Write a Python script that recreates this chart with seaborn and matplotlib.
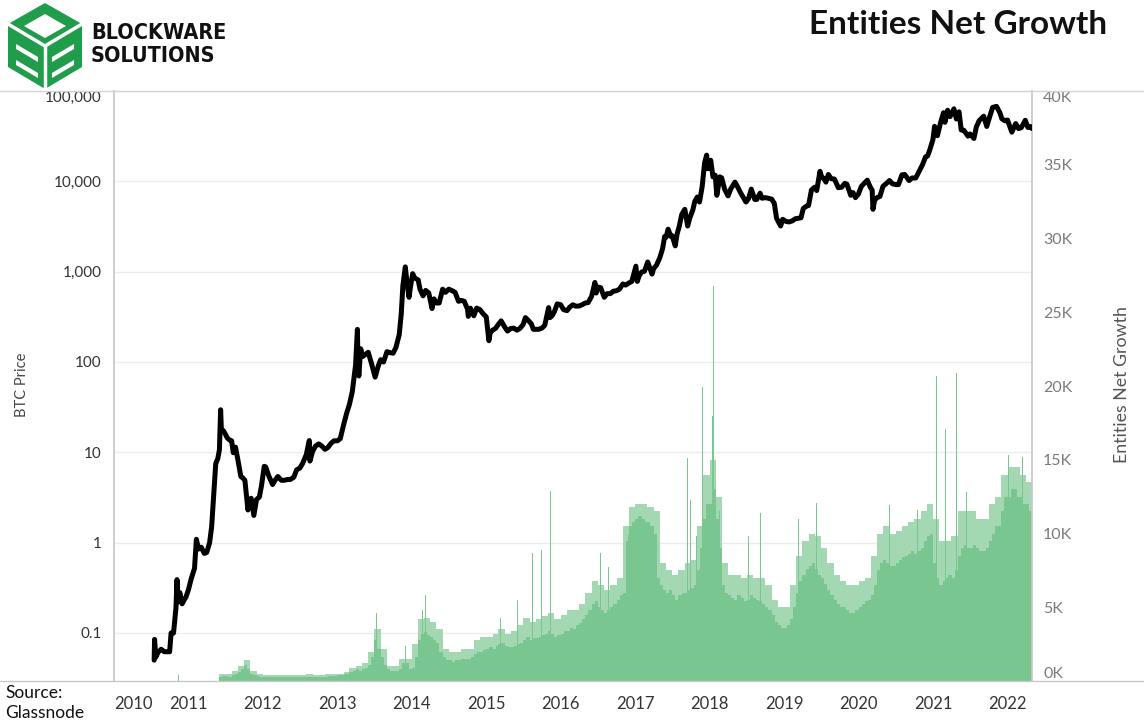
import numpy as np
import pandas as pd
import matplotlib
matplotlib.use("Agg")
import matplotlib.pyplot as plt
import matplotlib.dates as mdates
from matplotlib import font_manager
from matplotlib.patches import Polygon
from matplotlib.lines import Line2D
import seaborn as sns

sns.set_theme(style="white")
plt.rcParams["font.family"] = ["Lato", "DejaVu Sans"]

# ---------------- data ----------------
price_dates = [
    "2010-07-17", "2010-07-19", "2010-07-25", "2010-08-05", "2010-08-20", "2010-09-05", "2010-09-20",
    "2010-10-01", "2010-10-08", "2010-10-20", "2010-11-01", "2010-11-06", "2010-11-10", "2010-11-20",
    "2010-12-01", "2010-12-10", "2010-12-20", "2011-01-01", "2011-01-15", "2011-01-31", "2011-02-09",
    "2011-02-20", "2011-03-05", "2011-03-20", "2011-04-01", "2011-04-15", "2011-04-25", "2011-05-05",
    "2011-05-15", "2011-05-25", "2011-06-02", "2011-06-08", "2011-06-12", "2011-06-20", "2011-06-30",
    "2011-07-10", "2011-07-20", "2011-08-01", "2011-08-09", "2011-08-20", "2011-09-01", "2011-09-15",
    "2011-09-25", "2011-10-05", "2011-10-20", "2011-10-27", "2011-11-05", "2011-11-18", "2011-12-01",
    "2011-12-15", "2011-12-25", "2012-01-08", "2012-01-15", "2012-01-30", "2012-02-18", "2012-03-01",
    "2012-03-15", "2012-04-01", "2012-04-15", "2012-05-01", "2012-05-15", "2012-06-01", "2012-06-15",
    "2012-07-01", "2012-07-15", "2012-08-01", "2012-08-16", "2012-08-19", "2012-09-01", "2012-09-15",
    "2012-10-01", "2012-10-15", "2012-11-01", "2012-11-15", "2012-12-01", "2012-12-15", "2013-01-01",
    "2013-01-15", "2013-02-01", "2013-02-15", "2013-03-01", "2013-03-15", "2013-03-31", "2013-04-09",
    "2013-04-11", "2013-04-16", "2013-04-25", "2013-05-05", "2013-05-20", "2013-06-01", "2013-06-15",
    "2013-07-05", "2013-07-20", "2013-08-01", "2013-08-15", "2013-09-01", "2013-09-15", "2013-10-01",
    "2013-10-15", "2013-10-31", "2013-11-10", "2013-11-18", "2013-11-30", "2013-12-07", "2013-12-18",
    "2013-12-25", "2014-01-05", "2014-01-15", "2014-02-01", "2014-02-10", "2014-02-25", "2014-03-10",
    "2014-03-25", "2014-04-10", "2014-04-20", "2014-05-01", "2014-05-15", "2014-06-01", "2014-06-15",
    "2014-07-01", "2014-07-15", "2014-08-01", "2014-08-18", "2014-09-01", "2014-09-15", "2014-10-01",
    "2014-10-05", "2014-10-15", "2014-11-01", "2014-11-15", "2014-12-01", "2014-12-15", "2015-01-01",
    "2015-01-14", "2015-01-20", "2015-02-01", "2015-02-15", "2015-03-01", "2015-03-15", "2015-04-01",
    "2015-04-15", "2015-05-01", "2015-05-15", "2015-06-01", "2015-06-15", "2015-07-01", "2015-07-12",
    "2015-07-25", "2015-08-10", "2015-08-20", "2015-09-01", "2015-09-15", "2015-10-01", "2015-10-15",
    "2015-11-03", "2015-11-10", "2015-11-20", "2015-12-01", "2015-12-15", "2016-01-01", "2016-01-15",
    "2016-02-01", "2016-02-15", "2016-03-01", "2016-03-15", "2016-04-01", "2016-04-15", "2016-05-01",
    "2016-05-15", "2016-06-01", "2016-06-17", "2016-06-23", "2016-07-01", "2016-07-15", "2016-08-02",
    "2016-08-15", "2016-09-01", "2016-09-15", "2016-10-01", "2016-10-15", "2016-11-01", "2016-11-15",
    "2016-12-01", "2016-12-15", "2017-01-04", "2017-01-11", "2017-01-20", "2017-02-01", "2017-02-15",
    "2017-03-03", "2017-03-24", "2017-04-01", "2017-04-15", "2017-05-01", "2017-05-15", "2017-05-25",
    "2017-06-01", "2017-06-11", "2017-06-25", "2017-07-01", "2017-07-16", "2017-07-25", "2017-08-05",
    "2017-08-17", "2017-09-01", "2017-09-15", "2017-09-25", "2017-10-10", "2017-10-20", "2017-11-01",
    "2017-11-12", "2017-11-25", "2017-12-07", "2017-12-17", "2017-12-22", "2017-12-31", "2018-01-06",
    "2018-01-17", "2018-01-28", "2018-02-05", "2018-02-20", "2018-03-01", "2018-03-15", "2018-04-01",
    "2018-04-15", "2018-05-05", "2018-05-20", "2018-06-01", "2018-06-28", "2018-07-10", "2018-07-24",
    "2018-08-10", "2018-08-20", "2018-09-05", "2018-09-15", "2018-10-01", "2018-10-15", "2018-11-01",
    "2018-11-14", "2018-11-25", "2018-12-15", "2018-12-25", "2019-01-10", "2019-01-25", "2019-02-10",
    "2019-02-25", "2019-03-10", "2019-03-25", "2019-04-05", "2019-04-20", "2019-05-01", "2019-05-15",
    "2019-05-30", "2019-06-10", "2019-06-26", "2019-07-05", "2019-07-15", "2019-07-25", "2019-08-06",
    "2019-08-20", "2019-09-05", "2019-09-24", "2019-10-10", "2019-10-26", "2019-11-05", "2019-11-24",
    "2019-12-05", "2019-12-17", "2019-12-31", "2020-01-15", "2020-02-13", "2020-02-28", "2020-03-08",
    "2020-03-12", "2020-03-20", "2020-04-01", "2020-04-15", "2020-04-30", "2020-05-15", "2020-06-01",
    "2020-06-15", "2020-07-01", "2020-07-15", "2020-08-01", "2020-08-15", "2020-09-05", "2020-09-20",
    "2020-10-08", "2020-10-25", "2020-11-10", "2020-11-25", "2020-12-05", "2020-12-17", "2020-12-31",
    "2021-01-08", "2021-01-22", "2021-02-08", "2021-02-21", "2021-02-28", "2021-03-13", "2021-03-25",
    "2021-04-13", "2021-04-25", "2021-05-08", "2021-05-19", "2021-06-01", "2021-06-21", "2021-07-01",
    "2021-07-20", "2021-08-01", "2021-08-15", "2021-09-06", "2021-09-21", "2021-10-05", "2021-10-20",
    "2021-11-08", "2021-11-25", "2021-12-04", "2021-12-20", "2022-01-01", "2022-01-22", "2022-02-10",
    "2022-02-24", "2022-03-10", "2022-03-29", "2022-04-11", "2022-04-25", "2022-04-30",
]
price_usd = [
    0.05, 0.085, 0.054, 0.061, 0.066, 0.062, 0.062,
    0.062, 0.10, 0.10, 0.19, 0.39, 0.22, 0.28,
    0.21, 0.23, 0.25, 0.30, 0.40, 0.52, 1.09,
    0.85, 0.89, 0.76, 0.78, 1.0, 1.5, 3.3,
    7.5, 8.5, 10.6, 29.6, 17.0, 17.5, 16.1,
    14.5, 13.8, 13.4, 9.9, 11.4, 8.2, 5.4,
    5.2, 4.9, 2.3, 3.0, 3.1, 2.0, 3.0,
    3.2, 4.2, 7.0, 6.9, 5.5, 4.4, 4.9,
    5.4, 4.9, 4.9, 5.0, 5.0, 5.3, 6.4,
    6.7, 7.6, 9.4, 13.5, 8.0, 10.2, 11.7,
    12.4, 11.8, 10.8, 11.3, 12.6, 13.4, 13.4,
    14.2, 20.5, 27.0, 34.0, 47.0, 93.0, 230.0,
    120.0, 70.0, 140.0, 115.0, 122.0, 128.0, 100.0,
    68.0, 90.0, 106.0, 100.0, 130.0, 127.0, 125.0,
    145.0, 200.0, 340.0, 700.0, 1130.0, 800.0, 520.0,
    670.0, 950.0, 850.0, 810.0, 640.0, 540.0, 620.0,
    580.0, 390.0, 500.0, 450.0, 450.0, 640.0, 590.0,
    640.0, 620.0, 590.0, 470.0, 480.0, 470.0, 385.0,
    320.0, 395.0, 325.0, 395.0, 380.0, 345.0, 315.0,
    172.0, 210.0, 225.0, 235.0, 260.0, 285.0, 245.0,
    220.0, 235.0, 237.0, 225.0, 235.0, 260.0, 310.0,
    290.0, 265.0, 230.0, 230.0, 230.0, 237.0, 255.0,
    400.0, 310.0, 325.0, 360.0, 440.0, 430.0, 380.0,
    370.0, 405.0, 430.0, 415.0, 417.0, 430.0, 450.0,
    455.0, 535.0, 760.0, 580.0, 675.0, 665.0, 520.0,
    570.0, 572.0, 607.0, 615.0, 640.0, 730.0, 710.0,
    750.0, 780.0, 1150.0, 780.0, 900.0, 990.0, 1010.0,
    1280.0, 940.0, 1080.0, 1180.0, 1420.0, 1800.0, 2450.0,
    2400.0, 2950.0, 2450.0, 2500.0, 1930.0, 2600.0, 3200.0,
    4300.0, 4900.0, 3200.0, 3900.0, 4800.0, 6000.0, 6700.0,
    5900.0, 8700.0, 16000.0, 19500.0, 13800.0, 14000.0, 17100.0,
    11200.0, 11700.0, 7000.0, 11200.0, 10900.0, 8200.0, 6900.0,
    8300.0, 9800.0, 8500.0, 7500.0, 5900.0, 6400.0, 8200.0,
    6300.0, 6300.0, 7400.0, 6500.0, 6600.0, 6500.0, 6350.0,
    5700.0, 3900.0, 3200.0, 3800.0, 3600.0, 3550.0, 3650.0,
    3850.0, 3900.0, 3950.0, 5000.0, 5300.0, 5400.0, 8000.0,
    8600.0, 7900.0, 12900.0, 11000.0, 10800.0, 9800.0, 11900.0,
    10700.0, 10600.0, 8500.0, 8600.0, 9500.0, 9300.0, 7000.0,
    7500.0, 6600.0, 7200.0, 8800.0, 10300.0, 8600.0, 8000.0,
    4900.0, 6200.0, 6600.0, 6800.0, 8800.0, 9400.0, 10200.0,
    9400.0, 9200.0, 9200.0, 11800.0, 11900.0, 10200.0, 10900.0,
    10900.0, 13000.0, 15300.0, 18700.0, 19100.0, 22800.0, 29000.0,
    40600.0, 32000.0, 46000.0, 57500.0, 45000.0, 61200.0, 52000.0,
    63500.0, 49000.0, 58800.0, 37000.0, 36700.0, 31600.0, 33500.0,
    29800.0, 40000.0, 47000.0, 52600.0, 40500.0, 51500.0, 65900.0,
    67500.0, 57100.0, 49300.0, 46700.0, 47700.0, 35000.0, 43600.0,
    38300.0, 39400.0, 47400.0, 39500.0, 40400.0, 38500.0,
]

# entities net growth (thousands): typical level, two values per month (1st half, 2nd half)
growth_first_month = "2011-06"
growth_2011 = [0.3, 0.35, 0.35, 0.3, 0.4, 0.5, 0.6, 0.8, 1.1, 0.8, 0.5, 0.4, 0.35, 0.3]
growth_2012 = [0.3, 0.3, 0.25, 0.25, 0.25, 0.25, 0.25, 0.25, 0.25, 0.25, 0.25, 0.3,
               0.3, 0.3, 0.3, 0.3, 0.3, 0.3, 0.3, 0.3, 0.3, 0.35, 0.35, 0.35]
growth_2013 = [0.4, 0.4, 0.45, 0.5, 0.6, 0.7, 0.8, 0.7, 0.8, 0.9, 1.1, 1.6,
               2.8, 2.2, 1.6, 1.1, 0.8, 0.7, 0.7, 0.7, 0.8, 1.2, 1.2, 0.8]
growth_2014 = [0.9, 1.6, 2.8, 3.2, 3.3, 3.1, 3.0, 2.8, 2.6, 2.0, 1.6, 1.4,
               1.4, 1.3, 1.4, 1.4, 1.5, 1.5, 1.5, 1.6, 1.8, 2.0, 2.0, 2.1]
growth_2015 = [2.2, 2.3, 2.2, 2.4, 2.5, 2.6, 2.4, 2.3, 2.3, 2.4, 2.5, 2.6,
               2.8, 3.0, 2.8, 2.9, 2.9, 3.0, 3.1, 3.2, 3.4, 3.2, 3.0, 3.1]
growth_2016 = [3.2, 3.4, 3.4, 3.6, 3.5, 3.8, 3.9, 4.2, 4.5, 4.8, 5.2, 5.4,
               5.0, 4.8, 4.6, 4.8, 5.0, 5.2, 5.5, 5.8, 6.0, 9.5, 10.5, 10.8]
growth_2017 = [11.0, 11.2, 11.0, 10.8, 10.8, 10.5, 10.0, 7.0, 6.5, 6.2, 6.0, 6.2,
               5.8, 5.5, 5.8, 6.0, 6.0, 6.2, 6.3, 6.5, 7.5, 9.0, 11.0, 12.0]
growth_2018 = [12.0, 13.0, 11.0, 9.0, 6.5, 6.0, 5.8, 5.6, 5.5, 5.8, 5.6, 5.4,
               5.5, 5.8, 5.6, 5.5, 5.4, 5.2, 5.0, 4.8, 4.5, 4.0, 3.8, 3.6]
growth_2019 = [3.6, 3.8, 4.2, 5.0, 6.0, 6.8, 7.2, 7.6, 7.8, 8.0, 7.6, 7.2,
               7.0, 6.6, 6.2, 5.8, 5.5, 5.2, 5.0, 5.0, 4.8, 4.6, 4.6, 4.8]
growth_2020 = [5.0, 5.2, 5.4, 5.5, 5.8, 6.5, 7.5, 8.0, 8.2, 8.0, 7.8, 7.8,
               8.0, 8.2, 8.4, 8.5, 8.6, 8.8, 8.6, 8.8, 9.0, 9.5, 9.8, 10.0]
growth_2021 = [8.0, 7.0, 6.5, 6.8, 7.0, 7.2, 7.0, 7.5, 8.5, 9.0, 9.2, 9.0,
               9.0, 9.2, 9.0, 8.8, 8.8, 9.0, 9.5, 10.0, 10.5, 10.5, 11.5, 12.5]
growth_2022 = [12.5, 13.0, 13.0, 12.5, 12.5, 12.0, 12.0, 11.5]

# upper reach of the dense daily bars, one value per month (thousands)
growth_high_2011 = [0.5, 0.5, 0.7, 1.0, 1.4, 0.7, 0.5]
growth_high_2012 = [0.4, 0.4, 0.4, 0.4, 0.4, 0.4, 0.4, 0.45, 0.4, 0.4, 0.45, 0.5]
growth_high_2013 = [0.5, 0.6, 0.9, 1.0, 1.2, 2.0, 3.5, 2.2, 1.0, 1.0, 1.5, 1.5]
growth_high_2014 = [2.5, 4.2, 4.3, 4.0, 3.5, 2.2, 2.0, 2.0, 2.2, 2.2, 2.8, 3.0]
growth_high_2015 = [3.0, 3.2, 3.5, 3.2, 3.4, 3.8, 4.3, 4.0, 4.2, 4.4, 4.6, 4.2]
growth_high_2016 = [4.5, 4.8, 4.8, 5.2, 6.0, 6.8, 6.5, 6.2, 6.5, 7.0, 10.5, 11.8]
growth_high_2017 = [12.0, 12.0, 11.8, 11.5, 8.0, 7.5, 7.2, 7.5, 8.0, 8.2, 10.5, 14.0]
growth_high_2018 = [15.0, 12.5, 8.0, 7.2, 7.2, 7.0, 7.2, 7.0, 7.0, 6.5, 5.5, 5.0]
growth_high_2019 = [5.0, 6.5, 8.5, 9.5, 10.0, 9.8, 9.0, 8.0, 7.2, 6.8, 6.5, 6.5]
growth_high_2020 = [6.8, 7.0, 8.5, 10.0, 10.5, 10.0, 10.2, 10.5, 10.8, 11.0, 11.5, 12.0]
growth_high_2021 = [11.0, 9.5, 9.5, 9.8, 11.5, 11.5, 11.5, 11.0, 11.0, 12.0, 12.5, 14.0]
growth_high_2022 = [14.5, 14.5, 14.0, 13.5]

spike_dates = ["2010-11-12", "2013-07-12", "2013-11-29", "2014-02-20", "2014-03-08", "2015-03-10",
               "2015-06-03", "2015-08-18", "2015-09-27", "2015-11-13", "2016-07-12", "2016-08-22",
               "2016-11-27", "2017-09-16", "2017-10-01", "2017-10-30", "2017-11-28", "2018-01-14",
               "2018-01-18", "2018-01-22", "2018-02-20", "2018-07-08", "2018-09-06", "2019-03-14",
               "2019-06-10", "2020-05-31", "2020-10-18", "2021-01-19", "2021-03-03", "2021-04-26",
               "2021-06-16", "2022-01-08", "2022-03-17"]
spike_k = [0.4, 4.6, 2.4, 4.8, 5.8, 4.3,
           5.5, 8.7, 8.9, 12.9, 8.7, 7.7,
           9.9, 15.1, 12.3, 9.8, 19.9, 18.0,
           26.8, 17.0, 11.5, 9.8, 11.4, 11.0,
           12.1, 11.9, 11.6, 20.7, 17.1, 20.9,
           12.8, 15.3, 15.2]

left_ticks = [0.1, 1, 10, 100, 1000, 10000, 100000]
left_labels = ["0.1", "1", "10", "100", "1,000", "10,000", "100,000"]
right_ticks = [0, 5000, 10000, 15000, 20000, 25000, 30000, 35000, 40000]

# ---------------- assemble ----------------
price_df = pd.DataFrame({"date": pd.to_datetime(price_dates), "price": price_usd})

growth_k = (growth_2011 + growth_2012 + growth_2013 + growth_2014 + growth_2015 + growth_2016 +
            growth_2017 + growth_2018 + growth_2019 + growth_2020 + growth_2021 + growth_2022)
growth_high_k = (growth_high_2011 + growth_high_2012 + growth_high_2013 + growth_high_2014 +
                 growth_high_2015 + growth_high_2016 + growth_high_2017 + growth_high_2018 +
                 growth_high_2019 + growth_high_2020 + growth_high_2021 + growth_high_2022)
months = pd.date_range(growth_first_month, periods=len(growth_high_k) + 1, freq="MS")
half_dates, half_widths = [], []
for m0, m1 in zip(months[:-1], months[1:]):
    mid = m0 + pd.Timedelta(days=15)
    half_dates += [m0, mid]
    half_widths += [15.0 + 0.2, (m1 - mid).days + 0.2]
growth_df = pd.DataFrame({"date": half_dates, "entities": np.array(growth_k) * 1000,
                          "width": half_widths})
high_df = pd.DataFrame({"date": months[:-1], "entities": np.array(growth_high_k) * 1000,
                        "width": [(b - a).days + 0.2 for a, b in zip(months[:-1], months[1:])]})
spike_df = pd.DataFrame({"date": pd.to_datetime(spike_dates), "entities": np.array(spike_k) * 1000})

W, H = 1144, 721
fig = plt.figure(figsize=(W / 100, H / 100), dpi=100)
fig.patch.set_facecolor("white")
L, R, T, B = 114, 1032, 91, 681
ax = fig.add_axes([L / W, 1 - B / H, (R - L) / W, (B - T) / H])
ax2 = ax.twinx()
ax3 = ax.twinx()

xmin, xmax = pd.Timestamp("2010-01-01"), pd.Timestamp("2022-05-01")
ax.set_xlim(xmin, xmax)

# grid axis (left, log)
ax.set_yscale("log")
ax.set_ylim(0.0294, 100000)
ax.set_yticks(left_ticks)
ax.set_yticklabels(left_labels)
ax.yaxis.set_minor_locator(matplotlib.ticker.NullLocator())
ax.grid(axis="y", color="#ececec", lw=1.0)
ax.grid(axis="x", visible=False)
ax.tick_params(axis="y", length=0, pad=9, labelsize=11, labelcolor="#333333")
ax.tick_params(axis="x", length=0, pad=11, labelsize=12, labelcolor="#333333")
ax.xaxis.set_major_locator(mdates.YearLocator())
ax.xaxis.set_major_formatter(mdates.DateFormatter("%Y"))

# bars (right axis)
green = "#79c690"
light_green = "#a4d8b2"
ax2.bar(high_df["date"], high_df["entities"], width=high_df["width"], align="edge",
        color=light_green, edgecolor="none", linewidth=0)
ax2.bar(growth_df["date"], growth_df["entities"], width=growth_df["width"], align="edge",
        color=green, edgecolor="none", linewidth=0)
ax2.bar(spike_df["date"], spike_df["entities"], width=5, align="center",
        color=green, edgecolor="none", linewidth=0)
ax2.set_ylim(0, 40000)
ax2.set_yticks(right_ticks)
ax2.set_yticklabels([f"{v // 1000}K" for v in right_ticks])
ax2.tick_params(axis="y", length=0, pad=8, labelsize=11.5, labelcolor="#7a7a7a")
ax2.grid(False)

# price line
ax3.set_yscale("log")
ax3.set_ylim(ax.get_ylim())
sns.lineplot(data=price_df, x="date", y="price", ax=ax3, color="black", lw=3.6,
             estimator=None, sort=False)
ax3.set_yticks([])
ax3.yaxis.set_minor_locator(matplotlib.ticker.NullLocator())
ax3.set_ylabel("")
ax3.set_xlabel("")
ax3.grid(False)
ax.set_xlim(xmin, xmax)

ax.set_xlabel("")
ax.set_ylabel("")
ax2.set_ylabel("")

for a in (ax, ax2, ax3):
    for s in a.spines.values():
        s.set_visible(False)
ax.spines["left"].set_visible(True)
ax.spines["left"].set_color("#c8c8c8")
ax2.spines["right"].set_visible(True)
ax2.spines["right"].set_color("#c8c8c8")

# edge labels pushed inside (as in the reference)
fig.canvas.draw()
lbls = ax.get_yticklabels()
lbls[-1].set_va("top")
rl = ax2.get_yticklabels()
rl[0].set_va("bottom")
rl[-1].set_va("top")
xl = ax.get_xticklabels()
xl[0].set_ha("left")

# frame lines across the figure
fig.add_artist(Line2D([0, 1], [1 - T / H, 1 - T / H], color="#d4d4d4", lw=1.0, transform=fig.transFigure))
fig.add_artist(Line2D([0, 1], [1 - B / H, 1 - B / H], color="#c8c8c8", lw=1.0, transform=fig.transFigure))

# axis titles
fig.text(22 / W, 1 - 385 / H, "BTC Price", rotation=90, ha="center", va="center",
         fontsize=10.5, color="#444444")
fig.text(1122 / W, 1 - 385 / H, "Entities Net Growth", rotation=90, ha="center", va="center",
         fontsize=12.8, color="#555555")
fig.text(5 / W, 1 - 703 / H, "Source:\nGlassnode", ha="left", va="center",
         fontsize=12.5, color="#111111", linespacing=1.3)

# title
fig.text(1107 / W, 1 - 25 / H, "Entities Net Growth", ha="right", va="center",
         fontsize=24, fontweight="bold", color="#111111")

# logo
lg = fig.add_axes([0, 1 - 92 / H, 92 / W, 92 / H])
lg.set_xlim(0, 92)
lg.set_ylim(92, 0)
lg.axis("off")
lgreen = "#1f9d4a"
hexv = [(45, 3), (82, 24), (82, 67), (45, 89), (8, 67), (8, 24)]
lg.add_patch(Polygon(hexv, closed=True, facecolor=lgreen, edgecolor="none"))
lg.add_patch(Polygon([(45, 14), (66, 26), (45, 38), (24, 26)], closed=True, facecolor="white", edgecolor="none"))
lg.plot([45, 45], [46, 89], color="white", lw=2.5)
lg.plot([8, 45], [24, 46], color="white", lw=2.5)
lg.plot([82, 45], [24, 46], color="white", lw=2.5)
lg.add_patch(Polygon([(16, 44), (38, 57), (38, 62), (16, 49)], closed=True, facecolor="white", edgecolor="none"))
lg.add_patch(Polygon([(16, 60), (38, 73), (38, 78), (16, 65)], closed=True, facecolor="white", edgecolor="none"))
lg.add_patch(Polygon([(52, 57), (74, 44), (74, 49), (52, 62)], closed=True, facecolor="white", edgecolor="none"))
lg.add_patch(Polygon([(52, 73), (74, 60), (74, 65), (52, 78)], closed=True, facecolor="white", edgecolor="none"))

# logo words in a condensed bold face when available
logo_family, logo_stretch = "DejaVu Sans", "condensed"
for fam, st in [("Liberation Sans Narrow", "normal"), ("DejaVu Sans", "condensed")]:
    try:
        fp = font_manager.findfont(font_manager.FontProperties(family=fam, weight="bold", stretch=st),
                                   fallback_to_default=False)
        if "narrow" in fp.lower() or "condensed" in fp.lower():
            logo_family, logo_stretch = fam, st
            break
    except Exception:
        pass
for txt, yy in [("BLOCKWARE", 33), ("SOLUTIONS", 56)]:
    fig.text(91 / W, 1 - yy / H, txt, ha="left", va="center", fontsize=15.5,
             fontweight="heavy", family=logo_family, fontstretch=logo_stretch, color="#111111")

fig.savefig("out.png", dpi=100, facecolor="white")
